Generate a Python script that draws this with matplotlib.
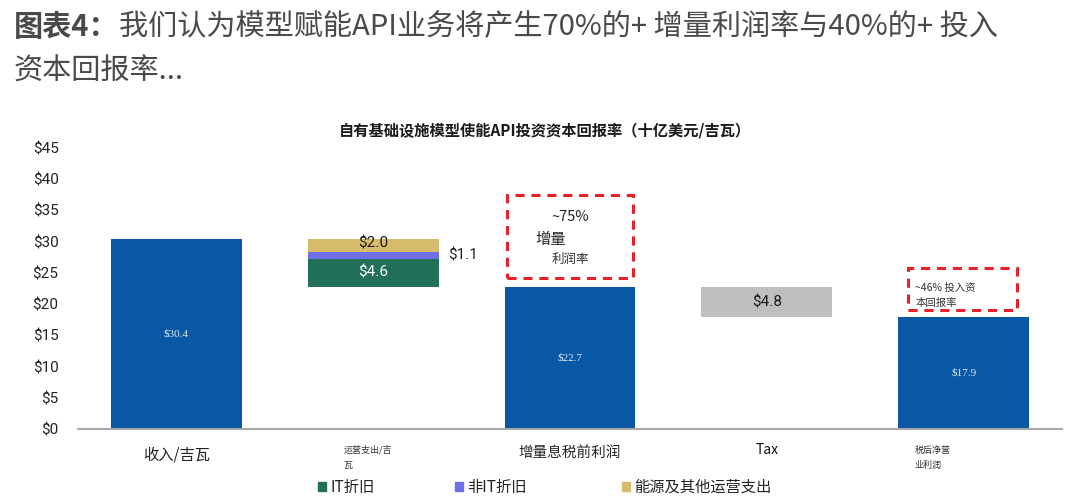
import matplotlib
matplotlib.use("Agg")
import matplotlib.pyplot as plt
from matplotlib.patches import Rectangle
import numpy as np

plt.rcParams['font.family'] = ['Noto Sans CJK SC', 'DejaVu Sans']

# ---- data ----
categories = ["收入/吉瓦", "运营支出/吉\n瓦", "增量息税前利润", "Tax", "税后净营\n业利润"]
revenue = 30.4
opex_labels = ["IT折旧", "非IT折旧", "能源及其他运营支出"]
opex_values = [4.6, 1.1, 2.0]
ebit = 22.7
tax = 4.8
nopat = 17.9
yticks = [0, 5, 10, 15, 20, 25, 30, 35, 40, 45]
ytick_labels = ["$0", "$5", "$10", "$15", "$20", "$25", "$30", "$35", "$40", "$45"]

title_bold = "图表4："
title_rest_line1 = "我们认为模型赋能API业务将产生70%的+ 增量利润率与40%的+ 投入"
title_line2 = "资本回报率..."
chart_title = "自有基础设施模型使能API投资资本回报率（十亿美元/吉瓦）"

blue = "#0858A5"
opex_colors = ["#23705A", "#6F6FE6", "#D5BB6B"]
gray = "#BFBFC1"

W, H = 1080, 503
fig = plt.figure(figsize=(W / 100, H / 100), dpi=100)
ax = fig.add_axes([78 / W, (H - 429) / H, 984 / W, 281 / H])

x = np.arange(len(categories))
bw = 0.665

# revenue
ax.bar(x[0], revenue, width=bw, color=blue)
# opex stacked
bottom = revenue - sum(opex_values)
for v, c in zip(opex_values, opex_colors):
    ax.bar(x[1], v, bottom=bottom, width=bw, color=c)
    bottom += v
# EBIT
ax.bar(x[2], ebit, width=bw, color=blue)
# tax
ax.bar(x[3], tax, bottom=ebit - tax, width=bw, color=gray)
# NOPAT
ax.bar(x[4], nopat, width=bw, color=blue)

ax.set_xlim(-0.5, 4.5)
ax.set_ylim(0, 45)
ax.set_yticks(yticks)
ax.set_yticklabels(ytick_labels, fontfamily="Roboto", fontsize=11, color="#222222")
ax.tick_params(axis='y', length=0, pad=14)
ax.set_xticks([])
for s in ["top", "right", "left"]:
    ax.spines[s].set_visible(False)
ax.spines["bottom"].set_color("#A8A8A8")
ax.spines["bottom"].set_linewidth(1.5)

# value labels
serif = "Liberation Serif"
ax.text(x[0], revenue / 2, f"${revenue}", ha="center", va="center", color="#DDE6F2", fontsize=8, fontfamily=serif)
ax.text(x[2], ebit / 2, f"${ebit}", ha="center", va="center", color="#DDE6F2", fontsize=8, fontfamily=serif)
ax.text(x[4], nopat / 2, f"${nopat}", ha="center", va="center", color="#DDE6F2", fontsize=8, fontfamily=serif)
b0 = revenue - sum(opex_values)
ax.text(x[1], b0 + opex_values[0] / 2, f"${opex_values[0]}", ha="center", va="center", color="white", fontsize=11, fontfamily="Roboto")
ax.text(x[1] + 0.38, b0 + opex_values[0] + opex_values[1] / 2, f"${opex_values[1]}", ha="left", va="center", color="#222222", fontsize=11, fontfamily="Roboto")
ax.text(x[1], revenue - opex_values[2] / 2 + 0.3, f"${opex_values[2]}", ha="center", va="center", color="#1a1a1a", fontsize=11, fontfamily="Roboto")
ax.text(x[3], ebit - tax / 2, f"${tax}", ha="center", va="center", color="#1a1a1a", fontsize=11, fontfamily="Roboto")

# annotation boxes
box_kw = dict(fill=False, edgecolor="#E8202A", linewidth=2.2, linestyle=(0, (3, 2.2)))
ax.add_patch(Rectangle((1.68, 24.2), 0.64, 13.3, **box_kw))
ax.text(2.0, 34.0, "~75%", ha="center", va="center", fontsize=10.5, color="#222222")
ax.text(1.90, 30.3, "增量", ha="center", va="center", fontsize=11, color="#222222")
ax.text(2.0, 27.2, "利润率", ha="center", va="center", fontsize=9, color="#333333")
ax.add_patch(Rectangle((3.72, 19.1), 0.55, 6.7, **box_kw))
ax.text(3.755, 22.6, "~46% 投入资", ha="left", va="center", fontsize=7.5, color="#333333")
ax.text(3.755, 20.2, "本回报率", ha="left", va="center", fontsize=7.5, color="#333333")

# category labels
ax.text(x[0], -4.2, categories[0], ha="center", va="center", fontsize=11, color="#222222")
ax.text(0.85, -4.6, categories[1], ha="left", va="center", fontsize=6.5, color="#333333", linespacing=1.9)
ax.text(x[2], -3.8, categories[2], ha="center", va="center", fontsize=10.5, color="#222222")
ax.text(x[3], -3.4, categories[3], ha="center", va="center", fontsize=10, color="#111111", fontweight="medium")
ax.text(3.75, -4.6, categories[4], ha="left", va="center", fontsize=6.5, color="#333333", linespacing=1.9)

# legend (manual)
leg_x = [318, 455, 622]
for lx, lab, c in zip(leg_x, opex_labels, opex_colors):
    fig.patches.append(Rectangle((lx / W, (H - 491) / H), 8 / W, 9 / H, color=c, transform=fig.transFigure, figure=fig))
    fig.text((lx + 12) / W, (H - 487) / H, lab, ha="left", va="center", fontsize=11, color="#222222")

# chart title
fig.text(545 / W, (H - 130) / H, chart_title, ha="center", va="center", fontsize=11, fontweight="bold", color="#1a1a1a")

# page title
t1 = fig.text(14 / W, (H - 27) / H, title_bold, ha="left", va="center", fontsize=21, fontweight="bold", color="#4a4a4a")
fig.canvas.draw()
r = fig.canvas.get_renderer()
bb = t1.get_window_extent(renderer=r)
fig.text(bb.x1 / W, (H - 27) / H, title_rest_line1, ha="left", va="center", fontsize=21, color="#4a4a4a")
fig.text(14 / W, (H - 72) / H, title_line2, ha="left", va="center", fontsize=21, color="#4a4a4a")

fig.savefig("out.png", dpi=100)
